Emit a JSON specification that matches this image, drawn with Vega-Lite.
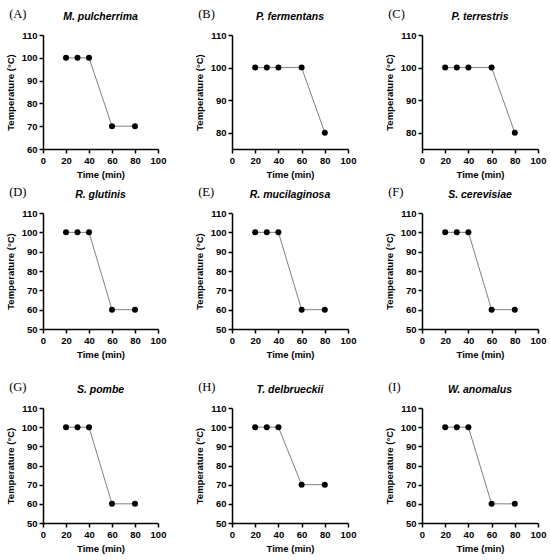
{
"$schema":"https://vega.github.io/schema/vega-lite/v6.json",
"padding":{"left":5,"top":8,"right":2,"bottom":2},
"background":"white",
"datasets":{"d":[
{"panel":"A","time":20,"temp":100},{"panel":"A","time":30,"temp":100},{"panel":"A","time":40,"temp":100},{"panel":"A","time":60,"temp":70},{"panel":"A","time":80,"temp":70},
{"panel":"B","time":20,"temp":100},{"panel":"B","time":30,"temp":100},{"panel":"B","time":40,"temp":100},{"panel":"B","time":60,"temp":100},{"panel":"B","time":80,"temp":80},
{"panel":"C","time":20,"temp":100},{"panel":"C","time":30,"temp":100},{"panel":"C","time":40,"temp":100},{"panel":"C","time":60,"temp":100},{"panel":"C","time":80,"temp":80},
{"panel":"D","time":20,"temp":100},{"panel":"D","time":30,"temp":100},{"panel":"D","time":40,"temp":100},{"panel":"D","time":60,"temp":60},{"panel":"D","time":80,"temp":60},
{"panel":"E","time":20,"temp":100},{"panel":"E","time":30,"temp":100},{"panel":"E","time":40,"temp":100},{"panel":"E","time":60,"temp":60},{"panel":"E","time":80,"temp":60},
{"panel":"F","time":20,"temp":100},{"panel":"F","time":30,"temp":100},{"panel":"F","time":40,"temp":100},{"panel":"F","time":60,"temp":60},{"panel":"F","time":80,"temp":60},
{"panel":"G","time":20,"temp":100},{"panel":"G","time":30,"temp":100},{"panel":"G","time":40,"temp":100},{"panel":"G","time":60,"temp":60},{"panel":"G","time":80,"temp":60},
{"panel":"H","time":20,"temp":100},{"panel":"H","time":30,"temp":100},{"panel":"H","time":40,"temp":100},{"panel":"H","time":60,"temp":70},{"panel":"H","time":80,"temp":70},
{"panel":"I","time":20,"temp":100},{"panel":"I","time":30,"temp":100},{"panel":"I","time":40,"temp":100},{"panel":"I","time":60,"temp":60},{"panel":"I","time":80,"temp":60}
]},
"spacing":22,
"vconcat":[
{"spacing":7,"vconcat":[
{"spacing":28,"hconcat":[
 {"title":{"text":"(A)","anchor":"start","font":"Liberation Serif","fontSize":12.5,"fontWeight":"normal","fontStyle":"normal","dy":13,"dx":4,"offset":4},
  "vconcat":[{"title":"M. pulcherrima","width":115,"height":114,"data":{"name":"d"},"transform":[{"filter":"datum.panel=='A'"}],
   "encoding":{"x":{"field":"time","type":"quantitative","title":"Time (min)","scale":{"domain":[0,100],"nice":false},"axis":{"values":[0,20,40,60,80,100]}},
               "y":{"field":"temp","type":"quantitative","title":"Temperature (°C)","scale":{"domain":[60,110],"nice":false,"zero":false},"axis":{"values":[60,70,80,90,100,110]}}},
   "layer":[{"mark":{"type":"line","color":"#808080","strokeWidth":1}},{"mark":{"type":"point","filled":true,"color":"black","opacity":1,"size":36}}]}]},
 {"title":{"text":"(B)","anchor":"start","font":"Liberation Serif","fontSize":12.5,"fontWeight":"normal","fontStyle":"normal","dy":13,"dx":4,"offset":4},
  "vconcat":[{"title":"P. fermentans","width":116,"height":114,"data":{"name":"d"},"transform":[{"filter":"datum.panel=='B'"}],
   "encoding":{"x":{"field":"time","type":"quantitative","title":"Time (min)","scale":{"domain":[0,100],"nice":false},"axis":{"values":[0,20,40,60,80,100]}},
               "y":{"field":"temp","type":"quantitative","title":"Temperature (°C)","scale":{"domain":[75,110],"nice":false,"zero":false},"axis":{"values":[80,90,100,110]}}},
   "layer":[{"mark":{"type":"line","color":"#808080","strokeWidth":1}},{"mark":{"type":"point","filled":true,"color":"black","opacity":1,"size":36}}]}]},
 {"title":{"text":"(C)","anchor":"start","font":"Liberation Serif","fontSize":12.5,"fontWeight":"normal","fontStyle":"normal","dy":13,"dx":4,"offset":4},
  "vconcat":[{"title":"P. terrestris","width":116,"height":114,"data":{"name":"d"},"transform":[{"filter":"datum.panel=='C'"}],
   "encoding":{"x":{"field":"time","type":"quantitative","title":"Time (min)","scale":{"domain":[0,100],"nice":false},"axis":{"values":[0,20,40,60,80,100]}},
               "y":{"field":"temp","type":"quantitative","title":"Temperature (°C)","scale":{"domain":[75,110],"nice":false,"zero":false},"axis":{"values":[80,90,100,110]}}},
   "layer":[{"mark":{"type":"line","color":"#808080","strokeWidth":1}},{"mark":{"type":"point","filled":true,"color":"black","opacity":1,"size":36}}]}]}
]},
{"spacing":28,"hconcat":[
 {"title":{"text":"(D)","anchor":"start","font":"Liberation Serif","fontSize":12.5,"fontWeight":"normal","fontStyle":"normal","dy":13,"dx":4,"offset":4},
  "vconcat":[{"title":"R. glutinis","width":115,"height":116,"data":{"name":"d"},"transform":[{"filter":"datum.panel=='D'"}],
   "encoding":{"x":{"field":"time","type":"quantitative","title":"Time (min)","scale":{"domain":[0,100],"nice":false},"axis":{"values":[0,20,40,60,80,100]}},
               "y":{"field":"temp","type":"quantitative","title":"Temperature (°C)","scale":{"domain":[50,110],"nice":false,"zero":false},"axis":{"values":[50,60,70,80,90,100,110]}}},
   "layer":[{"mark":{"type":"line","color":"#808080","strokeWidth":1}},{"mark":{"type":"point","filled":true,"color":"black","opacity":1,"size":36}}]}]},
 {"title":{"text":"(E)","anchor":"start","font":"Liberation Serif","fontSize":12.5,"fontWeight":"normal","fontStyle":"normal","dy":13,"dx":4,"offset":4},
  "vconcat":[{"title":"R. mucilaginosa","width":116,"height":116,"data":{"name":"d"},"transform":[{"filter":"datum.panel=='E'"}],
   "encoding":{"x":{"field":"time","type":"quantitative","title":"Time (min)","scale":{"domain":[0,100],"nice":false},"axis":{"values":[0,20,40,60,80,100]}},
               "y":{"field":"temp","type":"quantitative","title":"Temperature (°C)","scale":{"domain":[50,110],"nice":false,"zero":false},"axis":{"values":[50,60,70,80,90,100,110]}}},
   "layer":[{"mark":{"type":"line","color":"#808080","strokeWidth":1}},{"mark":{"type":"point","filled":true,"color":"black","opacity":1,"size":36}}]}]},
 {"title":{"text":"(F)","anchor":"start","font":"Liberation Serif","fontSize":12.5,"fontWeight":"normal","fontStyle":"normal","dy":13,"dx":4,"offset":4},
  "vconcat":[{"title":"S. cerevisiae","width":116,"height":116,"data":{"name":"d"},"transform":[{"filter":"datum.panel=='F'"}],
   "encoding":{"x":{"field":"time","type":"quantitative","title":"Time (min)","scale":{"domain":[0,100],"nice":false},"axis":{"values":[0,20,40,60,80,100]}},
               "y":{"field":"temp","type":"quantitative","title":"Temperature (°C)","scale":{"domain":[50,110],"nice":false,"zero":false},"axis":{"values":[50,60,70,80,90,100,110]}}},
   "layer":[{"mark":{"type":"line","color":"#808080","strokeWidth":1}},{"mark":{"type":"point","filled":true,"color":"black","opacity":1,"size":36}}]}]}
]}
]},
{"spacing":28,"hconcat":[
 {"title":{"text":"(G)","anchor":"start","font":"Liberation Serif","fontSize":12.5,"fontWeight":"normal","fontStyle":"normal","dy":13,"dx":4,"offset":4},
  "vconcat":[{"title":"S. pombe","width":115,"height":115,"data":{"name":"d"},"transform":[{"filter":"datum.panel=='G'"}],
   "encoding":{"x":{"field":"time","type":"quantitative","title":"Time (min)","scale":{"domain":[0,100],"nice":false},"axis":{"values":[0,20,40,60,80,100]}},
               "y":{"field":"temp","type":"quantitative","title":"Temperature (°C)","scale":{"domain":[50,110],"nice":false,"zero":false},"axis":{"values":[50,60,70,80,90,100,110]}}},
   "layer":[{"mark":{"type":"line","color":"#808080","strokeWidth":1}},{"mark":{"type":"point","filled":true,"color":"black","opacity":1,"size":36}}]}]},
 {"title":{"text":"(H)","anchor":"start","font":"Liberation Serif","fontSize":12.5,"fontWeight":"normal","fontStyle":"normal","dy":13,"dx":4,"offset":4},
  "vconcat":[{"title":"T. delbrueckii","width":116,"height":115,"data":{"name":"d"},"transform":[{"filter":"datum.panel=='H'"}],
   "encoding":{"x":{"field":"time","type":"quantitative","title":"Time (min)","scale":{"domain":[0,100],"nice":false},"axis":{"values":[0,20,40,60,80,100]}},
               "y":{"field":"temp","type":"quantitative","title":"Temperature (°C)","scale":{"domain":[50,110],"nice":false,"zero":false},"axis":{"values":[50,60,70,80,90,100,110]}}},
   "layer":[{"mark":{"type":"line","color":"#808080","strokeWidth":1}},{"mark":{"type":"point","filled":true,"color":"black","opacity":1,"size":36}}]}]},
 {"title":{"text":"(I)","anchor":"start","font":"Liberation Serif","fontSize":12.5,"fontWeight":"normal","fontStyle":"normal","dy":13,"dx":4,"offset":4},
  "vconcat":[{"title":"W. anomalus","width":116,"height":115,"data":{"name":"d"},"transform":[{"filter":"datum.panel=='I'"}],
   "encoding":{"x":{"field":"time","type":"quantitative","title":"Time (min)","scale":{"domain":[0,100],"nice":false},"axis":{"values":[0,20,40,60,80,100]}},
               "y":{"field":"temp","type":"quantitative","title":"Temperature (°C)","scale":{"domain":[50,110],"nice":false,"zero":false},"axis":{"values":[50,60,70,80,90,100,110]}}},
   "layer":[{"mark":{"type":"line","color":"#808080","strokeWidth":1}},{"mark":{"type":"point","filled":true,"color":"black","opacity":1,"size":36}}]}]}
]}
],
"config":{
 "view":{"stroke":null},
 "axis":{"grid":false,"domainColor":"black","domainWidth":1.5,"tickColor":"black","tickWidth":1.5,"tickSize":4,"labelFont":"Liberation Sans","labelFontWeight":"bold","labelFontSize":9.5,"labelColor":"black","labelPadding":2,"labelFlush":false,"labelOverlap":false,"titleFont":"Liberation Sans","titleFontWeight":"bold","titleFontSize":9.5,"titleColor":"black"},
 "axisY":{"titlePadding":6},
 "axisX":{"titlePadding":5},
 "title":{"font":"Liberation Sans","fontSize":10.5,"fontStyle":"italic","fontWeight":"bold","color":"black","offset":8}
}
}
